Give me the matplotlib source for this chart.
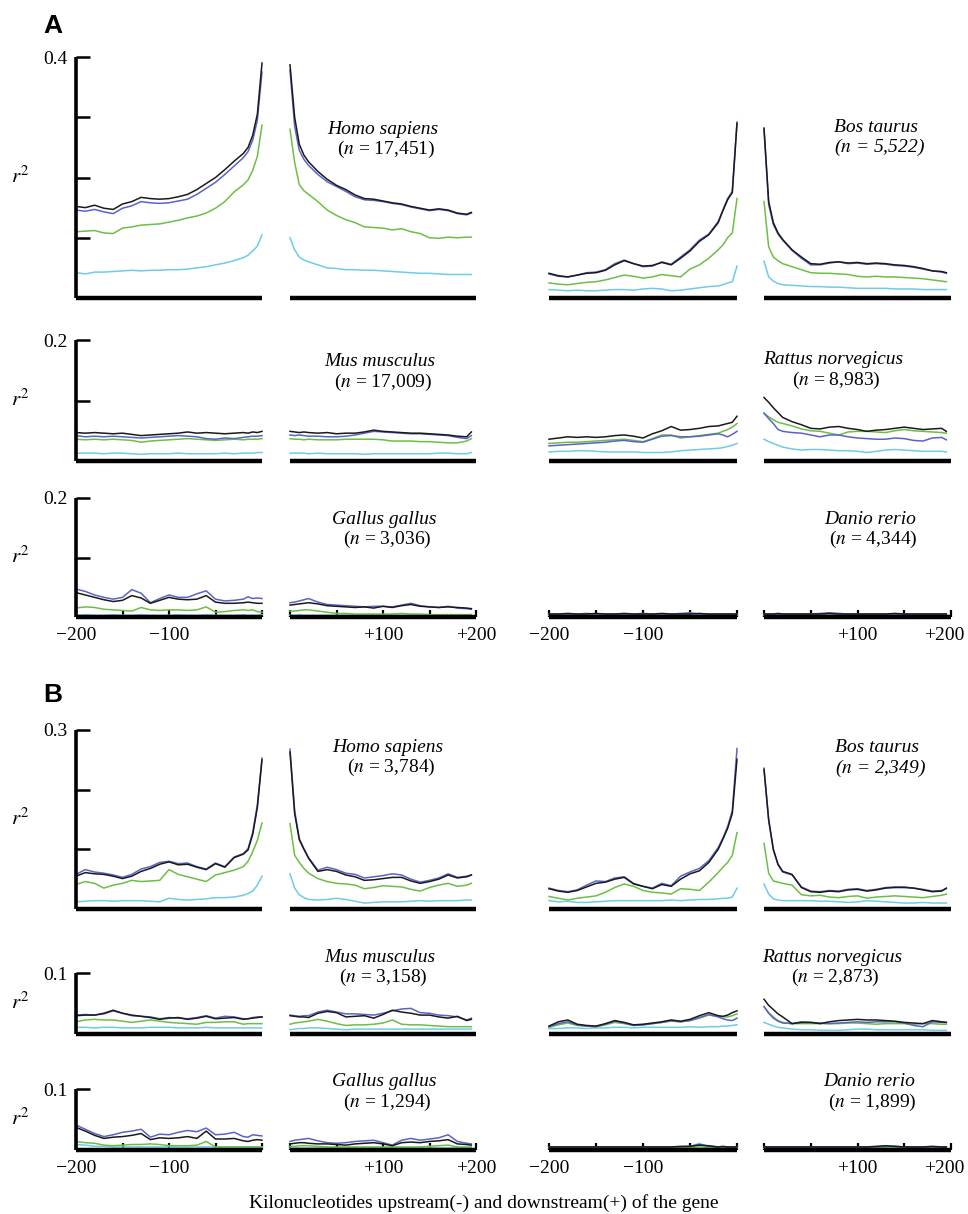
import matplotlib
matplotlib.use("Agg")
import matplotlib.pyplot as plt
from matplotlib.transforms import ScaledTranslation

plt.rcParams['font.family'] = ['Liberation Serif', 'DejaVu Serif']
plt.rcParams['mathtext.fontset'] = 'stix'

# kb positions of the bins (upstream / downstream halves)
UP_X = [-200, -190, -180, -170, -160, -150, -140, -130, -120, -110, -100, -90,
        -80, -70, -60, -50, -40, -30, -20, -15, -10, -5, 0]
DOWN_X = [0, 5, 10, 15, 20, 30, 40, 50, 60, 70, 80, 90,
          100, 110, 120, 130, 140, 150, 160, 170, 180, 190, 195]

SPECIES = ['Homo sapiens', 'Bos taurus', 'Mus musculus',
           'Rattus norvegicus', 'Gallus gallus', 'Danio rerio']
N_A = ['17,451', '5,522', '17,009', '8,983', '3,036', '4,344']
N_B = ['3,784', '2,349', '3,158', '2,873', '1,294', '1,899']

# ---------------- panel A ----------------
A_HOMO_UP = {
    'black': [0.152, 0.150, 0.154, 0.149, 0.147, 0.156, 0.160, 0.167, 0.165, 0.164, 0.165, 0.168,
              0.172, 0.180, 0.190, 0.200, 0.213, 0.227, 0.240, 0.250, 0.270, 0.305, 0.390],
    'blue': [0.146, 0.144, 0.147, 0.143, 0.140, 0.149, 0.153, 0.160, 0.158, 0.157, 0.158, 0.161,
             0.164, 0.172, 0.182, 0.192, 0.205, 0.219, 0.233, 0.243, 0.262, 0.295, 0.375],
    'green': [0.110, 0.111, 0.112, 0.108, 0.107, 0.116, 0.118, 0.121, 0.122, 0.123, 0.126, 0.129,
              0.133, 0.136, 0.141, 0.149, 0.160, 0.176, 0.188, 0.196, 0.212, 0.235, 0.287],
    'cyan': [0.042, 0.040, 0.043, 0.043, 0.044, 0.045, 0.046, 0.045, 0.046, 0.046, 0.047, 0.047,
             0.048, 0.050, 0.052, 0.055, 0.058, 0.062, 0.067, 0.071, 0.078, 0.086, 0.105],
}
A_HOMO_DOWN = {
    'black': [0.387, 0.300, 0.255, 0.237, 0.226, 0.210, 0.197, 0.187, 0.180, 0.171, 0.165, 0.164,
              0.161, 0.158, 0.156, 0.152, 0.149, 0.146, 0.148, 0.146, 0.141, 0.139, 0.142],
    'blue': [0.378, 0.285, 0.245, 0.230, 0.220, 0.205, 0.193, 0.185, 0.177, 0.168, 0.163, 0.162,
             0.160, 0.157, 0.155, 0.151, 0.148, 0.145, 0.147, 0.145, 0.140, 0.138, 0.141],
    'green': [0.280, 0.225, 0.188, 0.178, 0.172, 0.160, 0.146, 0.137, 0.130, 0.125, 0.118, 0.117,
              0.116, 0.113, 0.115, 0.110, 0.107, 0.100, 0.099, 0.101, 0.100, 0.101, 0.101],
    'cyan': [0.100, 0.080, 0.068, 0.063, 0.060, 0.055, 0.050, 0.049, 0.047, 0.047, 0.046, 0.046,
             0.045, 0.044, 0.043, 0.042, 0.041, 0.041, 0.040, 0.039, 0.039, 0.039, 0.039],
}
A_BOS_UP = {
    'black': [0.041, 0.037, 0.035, 0.038, 0.041, 0.042, 0.046, 0.055, 0.062, 0.057, 0.053, 0.054,
              0.059, 0.055, 0.066, 0.078, 0.094, 0.105, 0.125, 0.145, 0.163, 0.175, 0.290],
    'blue': [0.040, 0.036, 0.035, 0.038, 0.042, 0.043, 0.047, 0.057, 0.063, 0.057, 0.052, 0.053,
             0.060, 0.056, 0.068, 0.080, 0.096, 0.106, 0.127, 0.146, 0.165, 0.177, 0.292],
    'green': [0.025, 0.023, 0.022, 0.024, 0.026, 0.027, 0.030, 0.034, 0.038, 0.036, 0.033, 0.035,
              0.039, 0.037, 0.035, 0.048, 0.055, 0.066, 0.080, 0.088, 0.100, 0.108, 0.165],
    'cyan': [0.014, 0.013, 0.012, 0.013, 0.012, 0.012, 0.013, 0.014, 0.014, 0.013, 0.015, 0.016,
             0.015, 0.012, 0.013, 0.015, 0.017, 0.019, 0.020, 0.022, 0.025, 0.027, 0.053],
}
A_BOS_DOWN = {
    'black': [0.282, 0.160, 0.125, 0.108, 0.097, 0.080, 0.068, 0.057, 0.056, 0.059, 0.060, 0.058,
              0.059, 0.057, 0.058, 0.057, 0.055, 0.054, 0.052, 0.049, 0.045, 0.044, 0.042],
    'blue': [0.280, 0.155, 0.122, 0.106, 0.096, 0.079, 0.066, 0.055, 0.055, 0.058, 0.060, 0.057,
             0.058, 0.056, 0.057, 0.056, 0.054, 0.053, 0.051, 0.048, 0.045, 0.043, 0.041],
    'green': [0.160, 0.085, 0.068, 0.062, 0.057, 0.052, 0.047, 0.042, 0.041, 0.041, 0.040, 0.039,
              0.036, 0.035, 0.036, 0.035, 0.035, 0.034, 0.033, 0.032, 0.030, 0.028, 0.027],
    'cyan': [0.061, 0.035, 0.028, 0.024, 0.022, 0.021, 0.020, 0.019, 0.019, 0.018, 0.018, 0.017,
             0.016, 0.016, 0.016, 0.016, 0.015, 0.015, 0.015, 0.014, 0.014, 0.014, 0.014],
}
A_MUS_UP = {
    'black': [0.047, 0.046, 0.047, 0.046, 0.045, 0.046, 0.044, 0.042, 0.043, 0.044, 0.045, 0.046,
              0.048, 0.046, 0.047, 0.046, 0.045, 0.046, 0.047, 0.046, 0.048, 0.047, 0.049],
    'blue': [0.042, 0.040, 0.041, 0.040, 0.041, 0.040, 0.039, 0.038, 0.039, 0.040, 0.041, 0.042,
             0.041, 0.040, 0.037, 0.036, 0.038, 0.037, 0.039, 0.040, 0.041, 0.041, 0.042],
    'green': [0.036, 0.035, 0.036, 0.035, 0.036, 0.035, 0.034, 0.031, 0.033, 0.034, 0.035, 0.036,
              0.037, 0.036, 0.035, 0.034, 0.035, 0.036, 0.035, 0.036, 0.036, 0.036, 0.037],
    'cyan': [0.013, 0.013, 0.013, 0.012, 0.013, 0.013, 0.012, 0.011, 0.012, 0.012, 0.012, 0.013,
             0.012, 0.012, 0.012, 0.012, 0.013, 0.012, 0.013, 0.013, 0.013, 0.014, 0.014],
}
A_MUS_DOWN = {
    'black': [0.049, 0.048, 0.047, 0.048, 0.047, 0.046, 0.047, 0.045, 0.046, 0.046, 0.048, 0.051,
              0.049, 0.048, 0.047, 0.046, 0.046, 0.045, 0.044, 0.043, 0.041, 0.040, 0.048],
    'blue': [0.043, 0.042, 0.043, 0.042, 0.041, 0.041, 0.040, 0.040, 0.041, 0.043, 0.046, 0.049,
             0.048, 0.047, 0.046, 0.045, 0.045, 0.044, 0.043, 0.042, 0.039, 0.037, 0.042],
    'green': [0.037, 0.036, 0.036, 0.035, 0.036, 0.035, 0.035, 0.035, 0.036, 0.036, 0.036, 0.036,
              0.035, 0.033, 0.033, 0.033, 0.032, 0.032, 0.031, 0.030, 0.030, 0.033, 0.037],
    'cyan': [0.013, 0.013, 0.013, 0.013, 0.012, 0.013, 0.012, 0.012, 0.012, 0.012, 0.011, 0.012,
             0.012, 0.012, 0.012, 0.012, 0.012, 0.012, 0.013, 0.013, 0.012, 0.012, 0.014],
}
A_RAT_UP = {
    'black': [0.036, 0.038, 0.040, 0.039, 0.040, 0.039, 0.040, 0.042, 0.043, 0.041, 0.038, 0.045,
              0.050, 0.057, 0.051, 0.052, 0.054, 0.057, 0.058, 0.060, 0.062, 0.064, 0.074],
    'blue': [0.025, 0.026, 0.027, 0.028, 0.029, 0.030, 0.031, 0.033, 0.034, 0.032, 0.031, 0.036,
             0.041, 0.042, 0.040, 0.040, 0.041, 0.043, 0.045, 0.043, 0.040, 0.044, 0.049],
    'green': [0.029, 0.030, 0.031, 0.031, 0.032, 0.033, 0.034, 0.035, 0.036, 0.034, 0.032, 0.037,
              0.043, 0.043, 0.038, 0.040, 0.042, 0.044, 0.046, 0.049, 0.052, 0.056, 0.062],
    'cyan': [0.015, 0.016, 0.016, 0.017, 0.017, 0.016, 0.015, 0.015, 0.015, 0.015, 0.014, 0.014,
             0.014, 0.015, 0.017, 0.018, 0.019, 0.020, 0.021, 0.022, 0.024, 0.026, 0.029],
}
A_RAT_DOWN = {
    'black': [0.105, 0.097, 0.088, 0.080, 0.072, 0.065, 0.060, 0.054, 0.053, 0.056, 0.057, 0.054,
              0.052, 0.049, 0.051, 0.052, 0.054, 0.056, 0.054, 0.052, 0.053, 0.054, 0.049],
    'blue': [0.079, 0.070, 0.062, 0.052, 0.049, 0.047, 0.046, 0.043, 0.040, 0.043, 0.043, 0.040,
             0.038, 0.037, 0.036, 0.036, 0.038, 0.037, 0.034, 0.033, 0.038, 0.039, 0.035],
    'green': [0.079, 0.073, 0.068, 0.064, 0.062, 0.058, 0.053, 0.050, 0.049, 0.046, 0.043, 0.048,
              0.049, 0.049, 0.048, 0.047, 0.050, 0.052, 0.050, 0.049, 0.048, 0.047, 0.046],
    'cyan': [0.036, 0.032, 0.029, 0.026, 0.023, 0.020, 0.018, 0.019, 0.019, 0.018, 0.017, 0.017,
             0.016, 0.014, 0.016, 0.018, 0.019, 0.018, 0.017, 0.016, 0.016, 0.016, 0.015],
}
A_GAL_UP = {
    'black': [0.041, 0.037, 0.033, 0.029, 0.026, 0.028, 0.036, 0.032, 0.023, 0.028, 0.033, 0.030,
              0.029, 0.030, 0.036, 0.025, 0.023, 0.023, 0.024, 0.025, 0.024, 0.023, 0.023],
    'blue': [0.047, 0.043, 0.037, 0.033, 0.030, 0.033, 0.046, 0.040, 0.024, 0.031, 0.037, 0.033,
             0.033, 0.039, 0.044, 0.030, 0.027, 0.028, 0.030, 0.034, 0.031, 0.032, 0.031],
    'green': [0.015, 0.017, 0.016, 0.013, 0.012, 0.011, 0.010, 0.016, 0.012, 0.011, 0.012, 0.012,
              0.011, 0.012, 0.017, 0.008, 0.009, 0.011, 0.012, 0.011, 0.012, 0.009, 0.008],
    'cyan': [0.003, 0.004, 0.003, 0.003, 0.004, 0.003, 0.003, 0.004, 0.003, 0.003, 0.003, 0.004,
             0.003, 0.003, 0.004, 0.003, 0.003, 0.003, 0.004, 0.003, 0.003, 0.003, 0.004],
}
A_GAL_DOWN = {
    'black': [0.020, 0.021, 0.022, 0.023, 0.024, 0.022, 0.019, 0.018, 0.017, 0.016, 0.017, 0.015,
              0.018, 0.016, 0.019, 0.021, 0.018, 0.017, 0.016, 0.017, 0.016, 0.015, 0.014],
    'blue': [0.024, 0.025, 0.027, 0.029, 0.031, 0.025, 0.021, 0.020, 0.019, 0.018, 0.017, 0.018,
             0.018, 0.017, 0.020, 0.023, 0.019, 0.017, 0.016, 0.018, 0.015, 0.014, 0.013],
    'green': [0.010, 0.010, 0.011, 0.012, 0.012, 0.010, 0.008, 0.006, 0.006, 0.005, 0.005, 0.005,
              0.005, 0.005, 0.006, 0.005, 0.005, 0.004, 0.004, 0.004, 0.004, 0.004, 0.004],
    'cyan': [0.003, 0.003, 0.004, 0.003, 0.003, 0.003, 0.003, 0.003, 0.003, 0.003, 0.003, 0.003,
             0.003, 0.003, 0.003, 0.003, 0.003, 0.003, 0.003, 0.003, 0.003, 0.003, 0.003],
}
A_DAN_UP = {
    'black': [0.005, 0.005, 0.006, 0.005, 0.005, 0.006, 0.005, 0.005, 0.006, 0.005, 0.005, 0.005,
              0.006, 0.005, 0.005, 0.005, 0.006, 0.005, 0.005, 0.005, 0.005, 0.005, 0.005],
    'blue': [0.005, 0.005, 0.005, 0.005, 0.006, 0.005, 0.005, 0.005, 0.005, 0.005, 0.006, 0.005,
             0.005, 0.005, 0.006, 0.007, 0.005, 0.005, 0.005, 0.005, 0.005, 0.005, 0.005],
    'green': [0.004, 0.004, 0.004, 0.004, 0.004, 0.004, 0.004, 0.004, 0.004, 0.004, 0.004, 0.004,
              0.004, 0.004, 0.004, 0.004, 0.004, 0.004, 0.004, 0.004, 0.004, 0.004, 0.004],
    'cyan': [0.004, 0.004, 0.004, 0.004, 0.004, 0.004, 0.004, 0.004, 0.004, 0.004, 0.004, 0.004,
             0.004, 0.004, 0.005, 0.006, 0.004, 0.004, 0.004, 0.004, 0.004, 0.004, 0.004],
}
A_DAN_DOWN = {
    'black': [0.005, 0.005, 0.005, 0.006, 0.005, 0.005, 0.005, 0.005, 0.005, 0.006, 0.005, 0.005,
              0.005, 0.005, 0.005, 0.005, 0.006, 0.005, 0.005, 0.005, 0.005, 0.005, 0.005],
    'blue': [0.005, 0.005, 0.005, 0.005, 0.005, 0.005, 0.005, 0.005, 0.006, 0.007, 0.006, 0.005,
             0.005, 0.005, 0.005, 0.005, 0.005, 0.005, 0.005, 0.005, 0.005, 0.005, 0.005],
    'green': [0.004, 0.004, 0.004, 0.004, 0.004, 0.004, 0.004, 0.004, 0.004, 0.004, 0.004, 0.004,
              0.004, 0.004, 0.004, 0.004, 0.004, 0.004, 0.004, 0.004, 0.004, 0.004, 0.004],
    'cyan': [0.004, 0.004, 0.004, 0.004, 0.004, 0.004, 0.004, 0.004, 0.004, 0.004, 0.004, 0.004,
             0.004, 0.004, 0.004, 0.004, 0.005, 0.004, 0.004, 0.004, 0.004, 0.004, 0.004],
}

# ---------------- panel B ----------------
B_HOMO_UP = {
    'black': [0.055, 0.061, 0.059, 0.058, 0.055, 0.051, 0.055, 0.063, 0.068, 0.075, 0.079, 0.074,
              0.075, 0.070, 0.066, 0.076, 0.070, 0.086, 0.092, 0.099, 0.125, 0.170, 0.250],
    'blue': [0.058, 0.066, 0.062, 0.060, 0.057, 0.053, 0.058, 0.067, 0.071, 0.078, 0.080, 0.076,
             0.077, 0.071, 0.067, 0.077, 0.071, 0.087, 0.093, 0.101, 0.128, 0.175, 0.253],
    'green': [0.041, 0.046, 0.043, 0.035, 0.040, 0.043, 0.048, 0.046, 0.047, 0.048, 0.066, 0.058,
              0.054, 0.050, 0.046, 0.057, 0.061, 0.065, 0.071, 0.080, 0.096, 0.115, 0.144],
    'cyan': [0.012, 0.013, 0.014, 0.014, 0.013, 0.014, 0.014, 0.014, 0.013, 0.012, 0.018, 0.016,
             0.015, 0.016, 0.017, 0.019, 0.019, 0.020, 0.023, 0.026, 0.030, 0.040, 0.055],
}
B_HOMO_DOWN = {
    'black': [0.263, 0.160, 0.116, 0.100, 0.085, 0.063, 0.066, 0.063, 0.057, 0.054, 0.048, 0.049,
              0.051, 0.053, 0.053, 0.047, 0.043, 0.046, 0.050, 0.057, 0.052, 0.054, 0.057],
    'blue': [0.268, 0.165, 0.118, 0.101, 0.086, 0.065, 0.070, 0.066, 0.060, 0.058, 0.052, 0.054,
             0.056, 0.059, 0.057, 0.050, 0.045, 0.048, 0.052, 0.059, 0.053, 0.055, 0.057],
    'green': [0.143, 0.090, 0.078, 0.068, 0.060, 0.051, 0.046, 0.043, 0.042, 0.040, 0.034, 0.036,
              0.039, 0.038, 0.037, 0.033, 0.030, 0.036, 0.040, 0.043, 0.038, 0.040, 0.043],
    'cyan': [0.059, 0.035, 0.024, 0.019, 0.016, 0.015, 0.016, 0.018, 0.016, 0.013, 0.010, 0.011,
             0.012, 0.012, 0.012, 0.013, 0.014, 0.013, 0.014, 0.014, 0.014, 0.015, 0.015],
}
B_BOS_UP = {
    'black': [0.034, 0.030, 0.028, 0.031, 0.037, 0.043, 0.045, 0.050, 0.053, 0.042, 0.038, 0.034,
              0.041, 0.038, 0.050, 0.059, 0.064, 0.078, 0.100, 0.117, 0.135, 0.160, 0.251],
    'blue': [0.035, 0.031, 0.029, 0.032, 0.040, 0.047, 0.046, 0.052, 0.054, 0.043, 0.038, 0.035,
             0.043, 0.039, 0.055, 0.062, 0.068, 0.081, 0.103, 0.119, 0.138, 0.165, 0.269],
    'green': [0.021, 0.018, 0.015, 0.018, 0.020, 0.022, 0.028, 0.036, 0.042, 0.038, 0.031, 0.028,
              0.027, 0.025, 0.034, 0.033, 0.031, 0.045, 0.061, 0.070, 0.078, 0.090, 0.128],
    'cyan': [0.014, 0.012, 0.013, 0.011, 0.011, 0.012, 0.013, 0.014, 0.014, 0.014, 0.014, 0.014,
             0.014, 0.015, 0.014, 0.015, 0.016, 0.016, 0.017, 0.018, 0.018, 0.020, 0.035],
}
B_BOS_DOWN = {
    'black': [0.234, 0.150, 0.100, 0.075, 0.063, 0.058, 0.036, 0.029, 0.028, 0.030, 0.029, 0.032,
              0.033, 0.030, 0.032, 0.035, 0.036, 0.036, 0.035, 0.032, 0.029, 0.030, 0.035],
    'blue': [0.236, 0.148, 0.099, 0.074, 0.062, 0.057, 0.037, 0.030, 0.029, 0.031, 0.030, 0.033,
             0.034, 0.031, 0.033, 0.036, 0.037, 0.037, 0.035, 0.033, 0.030, 0.031, 0.034],
    'green': [0.110, 0.060, 0.047, 0.045, 0.043, 0.040, 0.024, 0.022, 0.023, 0.020, 0.019, 0.021,
              0.022, 0.018, 0.020, 0.021, 0.022, 0.021, 0.020, 0.019, 0.021, 0.023, 0.025],
    'cyan': [0.042, 0.025, 0.017, 0.015, 0.014, 0.014, 0.014, 0.014, 0.013, 0.013, 0.012, 0.011,
             0.012, 0.014, 0.013, 0.012, 0.011, 0.010, 0.010, 0.011, 0.010, 0.010, 0.010],
}
B_MUS_UP = {
    'black': [0.030, 0.031, 0.031, 0.034, 0.039, 0.034, 0.031, 0.029, 0.027, 0.024, 0.026, 0.027,
              0.024, 0.026, 0.029, 0.025, 0.026, 0.027, 0.024, 0.025, 0.026, 0.027, 0.028],
    'blue': [0.031, 0.032, 0.031, 0.033, 0.038, 0.034, 0.030, 0.029, 0.028, 0.025, 0.027, 0.026,
             0.025, 0.027, 0.030, 0.026, 0.029, 0.028, 0.025, 0.025, 0.027, 0.028, 0.028],
    'green': [0.020, 0.023, 0.024, 0.023, 0.023, 0.021, 0.019, 0.021, 0.023, 0.021, 0.019, 0.018,
              0.017, 0.016, 0.019, 0.019, 0.020, 0.020, 0.016, 0.017, 0.017, 0.017, 0.017],
    'cyan': [0.011, 0.011, 0.010, 0.011, 0.011, 0.010, 0.010, 0.010, 0.011, 0.011, 0.011, 0.010,
             0.010, 0.010, 0.011, 0.010, 0.010, 0.010, 0.010, 0.010, 0.010, 0.010, 0.010],
}
B_MUS_DOWN = {
    'black': [0.030, 0.029, 0.028, 0.028, 0.027, 0.034, 0.037, 0.035, 0.028, 0.029, 0.030, 0.026,
              0.032, 0.039, 0.036, 0.034, 0.031, 0.031, 0.028, 0.026, 0.029, 0.022, 0.024],
    'blue': [0.031, 0.030, 0.029, 0.030, 0.030, 0.036, 0.039, 0.036, 0.033, 0.033, 0.032, 0.031,
             0.034, 0.038, 0.041, 0.042, 0.035, 0.034, 0.031, 0.030, 0.028, 0.023, 0.026],
    'green': [0.016, 0.018, 0.019, 0.020, 0.021, 0.024, 0.021, 0.017, 0.014, 0.015, 0.015, 0.016,
              0.018, 0.023, 0.016, 0.015, 0.015, 0.014, 0.013, 0.012, 0.012, 0.012, 0.012],
    'cyan': [0.007, 0.008, 0.009, 0.009, 0.010, 0.010, 0.009, 0.008, 0.007, 0.008, 0.008, 0.008,
             0.008, 0.008, 0.008, 0.008, 0.008, 0.008, 0.008, 0.008, 0.008, 0.008, 0.008],
}
B_RAT_UP = {
    'black': [0.013, 0.020, 0.023, 0.016, 0.014, 0.013, 0.017, 0.022, 0.019, 0.015, 0.016, 0.018,
              0.020, 0.023, 0.021, 0.024, 0.030, 0.035, 0.030, 0.029, 0.031, 0.035, 0.038],
    'blue': [0.012, 0.017, 0.020, 0.015, 0.013, 0.012, 0.016, 0.021, 0.018, 0.014, 0.015, 0.017,
             0.019, 0.022, 0.020, 0.022, 0.027, 0.032, 0.028, 0.025, 0.023, 0.022, 0.026],
    'green': [0.011, 0.015, 0.018, 0.014, 0.013, 0.012, 0.015, 0.019, 0.017, 0.014, 0.015, 0.017,
              0.019, 0.021, 0.020, 0.022, 0.026, 0.031, 0.029, 0.028, 0.028, 0.030, 0.033],
    'cyan': [0.009, 0.009, 0.010, 0.010, 0.009, 0.010, 0.010, 0.011, 0.011, 0.010, 0.011, 0.011,
             0.011, 0.011, 0.011, 0.012, 0.011, 0.012, 0.012, 0.013, 0.013, 0.014, 0.015],
}
B_RAT_DOWN = {
    'black': [0.057, 0.047, 0.040, 0.033, 0.028, 0.017, 0.019, 0.019, 0.017, 0.020, 0.022, 0.023,
              0.024, 0.023, 0.023, 0.022, 0.021, 0.019, 0.018, 0.017, 0.022, 0.020, 0.019],
    'blue': [0.045, 0.034, 0.026, 0.021, 0.018, 0.017, 0.020, 0.019, 0.018, 0.017, 0.018, 0.019,
             0.020, 0.019, 0.020, 0.020, 0.020, 0.018, 0.014, 0.012, 0.020, 0.019, 0.019],
    'green': [0.045, 0.035, 0.028, 0.022, 0.019, 0.017, 0.017, 0.017, 0.017, 0.017, 0.017, 0.018,
              0.018, 0.017, 0.016, 0.017, 0.017, 0.017, 0.016, 0.017, 0.017, 0.016, 0.016],
    'cyan': [0.019, 0.016, 0.013, 0.011, 0.010, 0.008, 0.007, 0.007, 0.006, 0.006, 0.006, 0.007,
             0.008, 0.008, 0.007, 0.007, 0.007, 0.007, 0.007, 0.007, 0.006, 0.006, 0.006],
}
B_GAL_UP = {
    'black': [0.037, 0.031, 0.024, 0.019, 0.021, 0.022, 0.024, 0.027, 0.017, 0.020, 0.019, 0.020,
              0.022, 0.019, 0.031, 0.018, 0.018, 0.019, 0.015, 0.014, 0.016, 0.017, 0.016],
    'blue': [0.041, 0.034, 0.027, 0.022, 0.025, 0.029, 0.031, 0.034, 0.021, 0.026, 0.025, 0.029,
             0.032, 0.030, 0.036, 0.025, 0.026, 0.029, 0.022, 0.021, 0.025, 0.024, 0.023],
    'green': [0.014, 0.012, 0.011, 0.008, 0.007, 0.008, 0.009, 0.009, 0.010, 0.009, 0.007, 0.007,
              0.007, 0.008, 0.014, 0.005, 0.005, 0.005, 0.005, 0.005, 0.005, 0.005, 0.005],
    'cyan': [0.009, 0.008, 0.006, 0.006, 0.005, 0.005, 0.005, 0.005, 0.005, 0.005, 0.005, 0.005,
             0.005, 0.005, 0.005, 0.005, 0.005, 0.005, 0.005, 0.005, 0.005, 0.005, 0.005],
}
B_GAL_DOWN = {
    'black': [0.010, 0.011, 0.012, 0.012, 0.011, 0.010, 0.010, 0.009, 0.008, 0.010, 0.011, 0.012,
              0.010, 0.007, 0.012, 0.013, 0.012, 0.014, 0.015, 0.017, 0.010, 0.009, 0.008],
    'blue': [0.014, 0.016, 0.017, 0.018, 0.019, 0.015, 0.012, 0.011, 0.012, 0.014, 0.015, 0.016,
             0.012, 0.008, 0.016, 0.019, 0.016, 0.018, 0.020, 0.025, 0.014, 0.011, 0.010],
    'green': [0.006, 0.006, 0.007, 0.007, 0.007, 0.006, 0.005, 0.005, 0.005, 0.005, 0.005, 0.005,
              0.005, 0.005, 0.005, 0.005, 0.005, 0.006, 0.007, 0.008, 0.005, 0.005, 0.005],
    'cyan': [0.004, 0.004, 0.004, 0.004, 0.004, 0.004, 0.004, 0.004, 0.004, 0.004, 0.004, 0.004,
             0.004, 0.004, 0.004, 0.004, 0.004, 0.004, 0.004, 0.004, 0.004, 0.004, 0.004],
}
B_DAN_UP = {
    'black': [0.005, 0.005, 0.005, 0.005, 0.005, 0.005, 0.005, 0.005, 0.005, 0.005, 0.005, 0.005,
              0.005, 0.005, 0.006, 0.006, 0.008, 0.007, 0.005, 0.006, 0.005, 0.005, 0.005],
    'blue': [0.005, 0.005, 0.005, 0.005, 0.005, 0.005, 0.005, 0.005, 0.005, 0.005, 0.005, 0.005,
             0.005, 0.005, 0.005, 0.006, 0.009, 0.006, 0.005, 0.005, 0.005, 0.005, 0.005],
    'green': [0.004, 0.004, 0.005, 0.004, 0.004, 0.004, 0.004, 0.004, 0.004, 0.004, 0.004, 0.004,
              0.004, 0.004, 0.004, 0.004, 0.005, 0.004, 0.004, 0.004, 0.004, 0.004, 0.004],
    'cyan': [0.004, 0.004, 0.004, 0.004, 0.004, 0.004, 0.004, 0.004, 0.004, 0.004, 0.004, 0.004,
             0.004, 0.004, 0.004, 0.006, 0.011, 0.005, 0.004, 0.004, 0.004, 0.004, 0.004],
}
B_DAN_DOWN = {
    'black': [0.005, 0.005, 0.005, 0.005, 0.005, 0.005, 0.005, 0.005, 0.005, 0.005, 0.005, 0.005,
              0.005, 0.005, 0.006, 0.007, 0.006, 0.005, 0.005, 0.005, 0.006, 0.005, 0.005],
    'blue': [0.005, 0.005, 0.005, 0.005, 0.005, 0.005, 0.005, 0.005, 0.005, 0.005, 0.005, 0.005,
             0.005, 0.005, 0.005, 0.006, 0.006, 0.005, 0.005, 0.005, 0.005, 0.005, 0.005],
    'green': [0.004, 0.004, 0.004, 0.004, 0.004, 0.004, 0.004, 0.004, 0.004, 0.004, 0.004, 0.004,
              0.004, 0.004, 0.004, 0.004, 0.004, 0.004, 0.004, 0.004, 0.004, 0.004, 0.004],
    'cyan': [0.004, 0.004, 0.004, 0.004, 0.004, 0.004, 0.004, 0.004, 0.004, 0.004, 0.004, 0.004,
             0.004, 0.004, 0.004, 0.004, 0.004, 0.004, 0.004, 0.004, 0.004, 0.004, 0.004],
}

COLORS = {'cyan': '#6fcbe6', 'green': '#6cbf45', 'blue': '#5b63c9', 'black': '#1a1a1a'}
ORDER = ['cyan', 'green', 'blue', 'black']

##############
# layout in pixels of the 968 x 1214 figure

W, H = 968, 1214
fig = plt.figure(figsize=(W / 100, H / 100), dpi=100)

def px(x, y):
    return x / W, 1 - y / H

COLS = [(76, 262), (290, 476), (549, 737), (764, 951)]
# (top px, bottom px, ymax, tick step)
ROWS = [(57, 298, 0.4, 0.1), (340, 461, 0.2, 0.1), (498, 617, 0.2, 0.1),
        (730, 909, 0.3, 0.1), (973, 1034, 0.1, 0.1), (1089, 1150, 0.1, 0.1)]

PANELS = [
    (A_HOMO_UP, A_HOMO_DOWN, A_BOS_UP, A_BOS_DOWN),
    (A_MUS_UP, A_MUS_DOWN, A_RAT_UP, A_RAT_DOWN),
    (A_GAL_UP, A_GAL_DOWN, A_DAN_UP, A_DAN_DOWN),
    (B_HOMO_UP, B_HOMO_DOWN, B_BOS_UP, B_BOS_DOWN),
    (B_MUS_UP, B_MUS_DOWN, B_RAT_UP, B_RAT_DOWN),
    (B_GAL_UP, B_GAL_DOWN, B_DAN_UP, B_DAN_DOWN),
]

# label centres (x, y of first line) for left / right species of each row
LABEL_POS = [((383, 129), (876, 127)), ((380, 362), (833, 360)), ((384, 519), (870, 519)),
             ((388, 747), (877, 748)), ((380, 957), (832, 957)), ((384, 1082), (869, 1082))]

LW = 1.1
for r, (top, bottom, ymax, step) in enumerate(ROWS):
    last_row = r in (2, 5)
    for c, (x0, x1) in enumerate(COLS):
        data = PANELS[r][c]
        is_up = c in (0, 2)
        ax = fig.add_axes([x0 / W, 1 - bottom / H, (x1 - x0) / W, (bottom - top) / H])
        xs = UP_X if is_up else DOWN_X
        for key in ORDER:
            ax.plot(xs, data[key], color=COLORS[key], lw=LW, clip_on=False,
                    solid_joinstyle='round')
        ax.set_xlim((-200, 0) if is_up else (0, 200))
        ax.set_ylim(0, ymax)
        ax.patch.set_visible(False)
        ax.spines['top'].set_visible(False)
        ax.spines['right'].set_visible(False)
        ax.spines['bottom'].set_linewidth(3.2)
        ax.spines['bottom'].set_capstyle('butt')
        if c == 0:
            ax.spines['left'].set_linewidth(2.6)
            ax.spines['left'].set_capstyle('butt')
            n = int(round(ymax / step))
            ticks = [step * (i + 1) for i in range(n)]
            ax.set_yticks(ticks)
            ax.set_yticklabels([''] * (n - 1) + [f'{ymax:.1f}'])
            ax.tick_params(axis='y', direction='in', length=10, width=1.8,
                           pad=6, labelsize=14)
        else:
            ax.spines['left'].set_visible(False)
            ax.set_yticks([])
        if last_row:
            if is_up:
                ax.set_xticks([-200, -150, -100, -50, 0])
                ax.set_xticklabels(['\u2212200', '', '\u2212100', '', ''])
            else:
                ax.set_xticks([0, 50, 100, 150, 200])
                ax.set_xticklabels(['', '', '+100', '', '+200'])
            ax.tick_params(axis='x', direction='in', length=5, width=1.6,
                           pad=7, labelsize=14)
            if c == 3:
                # keep the right-most label inside the picture
                lab = ax.get_xticklabels()[-1]
                lab.set_transform(lab.get_transform() +
                                  ScaledTranslation(-5 / 72, 0, fig.dpi_scale_trans))
        else:
            ax.set_xticks([])

    # r^2 label
    fig.text(*px(20, (top + bottom) / 2), r'$r^2$', fontsize=15, ha='center', va='center')

    # species labels
    ns = N_A if r < 3 else N_B
    for side in (0, 1):
        idx = (r % 3) * 2 + side
        lx, ly = LABEL_POS[r][side]
        bos = SPECIES[idx] == 'Bos taurus'
        fig.text(*px(lx, ly), SPECIES[idx], fontsize=14, style='italic',
                 ha='center', va='center')
        fig.text(*px(lx + 3, ly + 20), '($\\mathit{n}$ = ' + ns[idx] + ')', fontsize=14,
                 style='italic' if bos else 'normal', ha='center', va='center')

fig.text(*px(43, 26), 'A', fontsize=19, fontweight='bold', family='Liberation Sans',
         ha='left', va='center')
fig.text(*px(43, 695), 'B', fontsize=19, fontweight='bold', family='Liberation Sans',
         ha='left', va='center')
fig.text(*px(484, 1203), 'Kilonucleotides upstream(-) and downstream(+) of the gene',
         fontsize=14, ha='center', va='center')

fig.savefig('out.png', dpi=100)
